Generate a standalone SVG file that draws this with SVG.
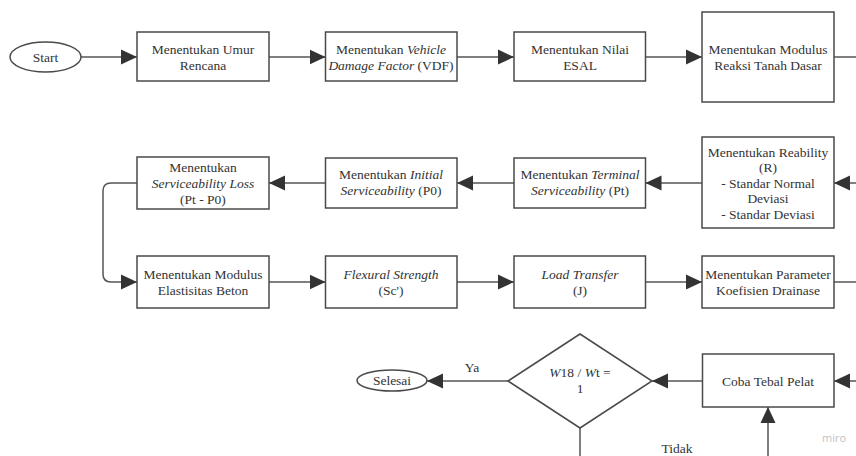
<svg xmlns="http://www.w3.org/2000/svg" width="856" height="456" viewBox="0 0 856 456">
<style>
.box{fill:#fff;stroke:#4a4a4a;stroke-width:1.5}
text{font-family:'Liberation Serif','Tinos','DejaVu Serif',serif !important;font-size:13.5px;fill:#333;text-anchor:middle}
.i{font-style:italic}
.ln{fill:none;stroke:#555;stroke-width:1.5}
text.wm{font-family:'Open Sans','DejaVu Sans',sans-serif !important;font-size:11px;fill:#c4c4c4}
</style>
<defs>
<marker id="ah" markerUnits="userSpaceOnUse" markerWidth="16" markerHeight="16" viewBox="0 0 16 16" refX="16" refY="8" orient="auto">
<path d="M0,0.5 L16,8 L0,15.5 Z" fill="#333"/>
</marker>
</defs>
<rect width="856" height="456" fill="#fff"/>
<g id="connectors">
<path class="ln" d="M81,57 H137" marker-end="url(#ah)"/>
<path class="ln" d="M269,57 H325.5" marker-end="url(#ah)"/>
<path class="ln" d="M457,57 H514" marker-end="url(#ah)"/>
<path class="ln" d="M645.5,57 H702" marker-end="url(#ah)"/>
<path class="ln" d="M834,57 H856"/>
<path class="ln" d="M856,183 H834" marker-end="url(#ah)"/>
<path class="ln" d="M702,183 H645.5" marker-end="url(#ah)"/>
<path class="ln" d="M514,183 H457" marker-end="url(#ah)"/>
<path class="ln" d="M325.5,183 H269" marker-end="url(#ah)"/>
<path class="ln" d="M137,183 H111 Q103,183 103,191 V274 Q103,282 111,282 H137" marker-end="url(#ah)"/>
<path class="ln" d="M269,282 H325.5" marker-end="url(#ah)"/>
<path class="ln" d="M457,282 H514" marker-end="url(#ah)"/>
<path class="ln" d="M645.5,282 H702" marker-end="url(#ah)"/>
<path class="ln" d="M834,282 H856"/>
<path class="ln" d="M856,381 H834" marker-end="url(#ah)"/>
<path class="ln" d="M702.5,381 H652" marker-end="url(#ah)"/>
<path class="ln" d="M508,381 H427" marker-end="url(#ah)"/>
<path class="ln" d="M580,428 V456"/>
<path class="ln" d="M768,456 V407" marker-end="url(#ah)"/>
<text x="472" y="372">Ya</text>
<text x="677" y="453">Tidak</text>
</g>
<g id="start">
<ellipse cx="45.5" cy="57" rx="35.5" ry="15" class="box"/>
<text x="45.5" y="61.5">Start</text>
</g>
<g id="umur">
<rect x="137" y="32" width="132" height="49" class="box"/>
<text x="203" y="53.5">Menentukan Umur</text>
<text x="203" y="69.5">Rencana</text>
</g>
<g id="vdf">
<rect x="325.5" y="32" width="131.5" height="49" class="box"/>
<text x="391" y="53.5">Menentukan <tspan class="i">Vehicle</tspan></text>
<text x="391" y="69.5"><tspan class="i">Damage Factor</tspan> (VDF)</text>
</g>
<g id="esal">
<rect x="514" y="32" width="131.5" height="49" class="box"/>
<text x="580" y="53.5">Menentukan Nilai</text>
<text x="580" y="69.5">ESAL</text>
</g>
<g id="modulus-tanah">
<rect x="702" y="12" width="132" height="90" class="box"/>
<text x="768" y="53.5">Menentukan Modulus</text>
<text x="768" y="69.5">Reaksi Tanah Dasar</text>
</g>
<g id="reability">
<rect x="702" y="137" width="132" height="91" class="box"/>
<text x="768" y="156.5">Menentukan Reability</text>
<text x="768" y="172">(R)</text>
<text x="768" y="187.5">- Standar Normal</text>
<text x="768" y="203">Deviasi</text>
<text x="768" y="218.5">- Standar Deviasi</text>
</g>
<g id="terminal">
<rect x="514" y="158" width="131.5" height="50" class="box"/>
<text x="580" y="179">Menentukan <tspan class="i">Terminal</tspan></text>
<text x="580" y="194.5"><tspan class="i">Serviceability</tspan> (Pt)</text>
</g>
<g id="initial">
<rect x="325.5" y="158" width="131.5" height="50" class="box"/>
<text x="391" y="179">Menentukan <tspan class="i">Initial</tspan></text>
<text x="391" y="194.5"><tspan class="i">Serviceability</tspan> (P0)</text>
</g>
<g id="loss">
<rect x="137" y="157" width="132" height="52" class="box"/>
<text x="203" y="172">Menentukan</text>
<text x="203" y="188" class="i">Serviceability Loss</text>
<text x="203" y="204">(Pt - P0)</text>
</g>
<g id="elastisitas">
<rect x="137" y="256" width="132" height="52" class="box"/>
<text x="203" y="279">Menentukan Modulus</text>
<text x="203" y="295">Elastisitas Beton</text>
</g>
<g id="flexural">
<rect x="325.5" y="256" width="131.5" height="52" class="box"/>
<text class="i" x="391" y="279">Flexural Strength</text>
<text x="391" y="295">(Sc')</text>
</g>
<g id="load">
<rect x="514" y="256" width="131.5" height="52" class="box"/>
<text class="i" x="580" y="279">Load Transfer</text>
<text x="580" y="295">(J)</text>
</g>
<g id="drainase">
<rect x="702" y="256" width="132" height="52" class="box"/>
<text x="768" y="279">Menentukan Parameter</text>
<text x="768" y="295">Koefisien Drainase</text>
</g>
<g id="coba">
<rect x="702.5" y="354" width="131.5" height="53" class="box"/>
<text x="768" y="385.5">Coba Tebal Pelat</text>
</g>
<g id="decision">
<polygon points="580,334 652,381 580,428 508,381" class="box"/>
<text x="580" y="377"><tspan class="i">W</tspan>18 / <tspan class="i">W</tspan>t =</text>
<text x="580" y="393">1</text>
</g>
<g id="selesai">
<ellipse cx="392" cy="380.5" rx="35" ry="10.5" class="box"/>
<text x="392" y="385">Selesai</text>
</g>
<text class="wm" x="834" y="442">miro</text>
</svg>
